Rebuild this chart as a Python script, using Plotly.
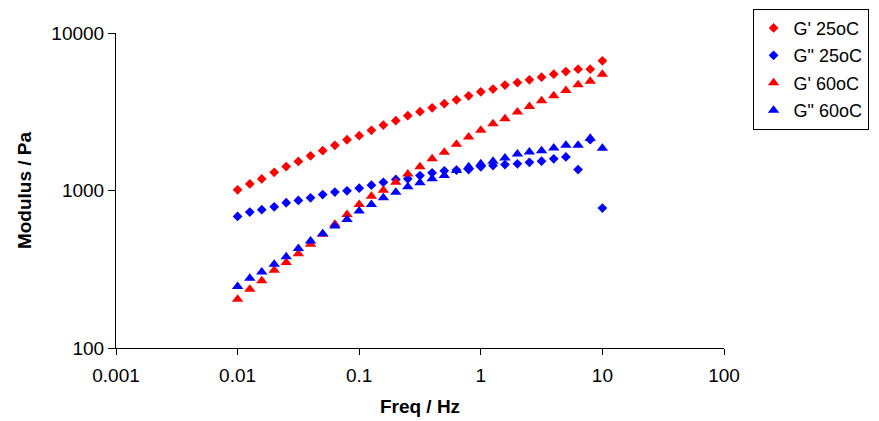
import plotly.graph_objects as go

freq_hz = [0.01, 0.0126, 0.0158, 0.02, 0.0251, 0.0316, 0.0398, 0.0501, 0.0631, 0.0794,
           0.1, 0.126, 0.158, 0.2, 0.251, 0.316, 0.398, 0.501, 0.631, 0.794,
           1.0, 1.26, 1.58, 2.0, 2.51, 3.16, 3.98, 5.01, 6.31, 7.94, 10.0]

g1_25 = [1010, 1100, 1185, 1305, 1420, 1530, 1660, 1790, 1935, 2100,
         2230, 2410, 2605, 2775, 2985, 3165, 3350, 3555, 3765, 3995,
         4235, 4405, 4670, 4845, 5045, 5245, 5480, 5690, 5890, 5890, 6655]

g2_25 = [684, 729, 756, 788, 836, 865, 899, 942, 978, 995,
         1034, 1081, 1128, 1175, 1186, 1245, 1295, 1334, 1349, 1359,
         1413, 1440, 1462, 1476, 1511, 1534, 1588, 1634, 1359, 2103, 773]

g1_60 = [204, 236, 267, 312, 349, 397, 455, 527, 610, 705,
         815, 920, 1005, 1129, 1275, 1413, 1588, 1747, 1963, 2189,
         2410, 2657, 2856, 3149, 3418, 3715, 3994, 4314, 4689, 4942, 5479]

g2_60 = [246, 277, 304, 340, 379, 428, 478, 532, 595, 655,
         740, 815, 899, 975, 1055, 1119, 1186, 1245, 1340, 1413,
         1476, 1532, 1610, 1708, 1757, 1791, 1862, 1935, 1935, 2147, 1853]

series_names = ["G' 25oC", 'G" 25oC', "G' 60oC", 'G" 60oC']

x_tick_vals = [0.001, 0.01, 0.1, 1, 10, 100]
x_tick_text = ["0.001", "0.01", "0.1", "1", "10", "100"]
y_tick_vals = [100, 1000, 10000]
y_tick_text = ["100", "1000", "10000"]

FONT = "Liberation Sans, Arial, sans-serif"
RED = "#FF0000"
BLUE = "#0000FF"

styles = [
    dict(symbol="diamond", color=RED, size=7.5),
    dict(symbol="diamond", color=BLUE, size=7.5),
    dict(symbol="triangle-up", color=RED, size=10),
    dict(symbol="triangle-up", color=BLUE, size=10),
]

fig = go.Figure()
for i, (name, ys, st) in enumerate(zip(series_names, [g1_25, g2_25, g1_60, g2_60], styles)):
    fig.add_trace(go.Scatter(
        x=freq_hz, y=ys, mode="markers", name=name,
        legendgroup=f"g{i}",
        marker=dict(symbol=st["symbol"], color=st["color"], size=st["size"], line=dict(width=0)),
    ))

# The page body has a default 8px margin, so the figure is sized/positioned accordingly.
fig.update_layout(
    width=871, height=413,
    margin=dict(l=108, r=155, t=25, b=73, autoexpand=False),
    paper_bgcolor="white", plot_bgcolor="white",
    font=dict(family=FONT, size=18, color="black"),
    showlegend=True,
    legend=dict(
        x=1.047, y=1.077, xanchor="left", yanchor="top",
        bordercolor="black", borderwidth=1, bgcolor="white",
        font=dict(family=FONT, size=18, color="black"),
        tracegroupgap=1,
    ),
)

fig.update_xaxes(
    type="log", range=[-3, 2],
    tickvals=x_tick_vals, ticktext=x_tick_text,
    showgrid=False, zeroline=False,
    showline=True, linecolor="black", linewidth=1,
    ticks="outside", ticklen=6, tickcolor="black", tickwidth=1,
    ticklabelstandoff=4,
    tickfont=dict(family=FONT, size=19, color="black"),
    title=dict(text="Freq / Hz", font=dict(family=FONT, size=19, color="black", weight="bold"), standoff=14),
)
fig.update_yaxes(
    type="log", range=[2, 4],
    tickvals=y_tick_vals, ticktext=y_tick_text,
    showgrid=False, zeroline=False,
    showline=True, linecolor="black", linewidth=1,
    ticks="outside", ticklen=7, tickcolor="black", tickwidth=1,
    tickfont=dict(family=FONT, size=19, color="black"),
    title=dict(text="Modulus / Pa", font=dict(family=FONT, size=19, color="black", weight="bold"), standoff=14),
)

fig.write_html("out.html")
